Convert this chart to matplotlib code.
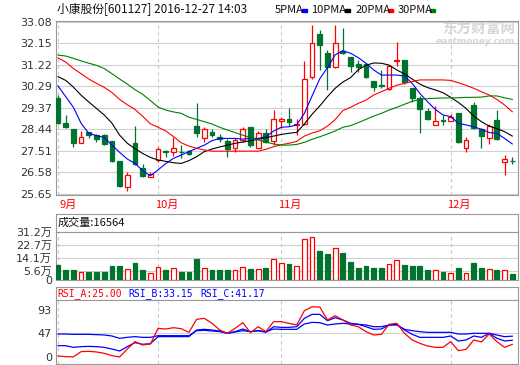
import matplotlib
matplotlib.use("Agg")
import matplotlib.pyplot as plt
from matplotlib.patches import Rectangle
from matplotlib.transforms import blended_transform_factory

# Chart of 601127 daily candles, volume and RSI (eastmoney style)

W, H = 520, 365
RED = "#ff0000"
GREEN = "#00732f"
BLUE = "#0000ff"
GRID = "#d0d0d0"
FRAME = "#999999"

title = "小康股份[601127] 2016-12-27 14:03"
month_labels = ["9月", "10月", "11月", "12月"]
month_starts = [0, 13, 29, 51]

opens = [29.78, 28.70, 28.44, 27.86, 28.31, 28.19, 28.19, 27.95, 27.07, 25.97,
         27.84, 26.76, 26.40, 27.12, 27.50, 27.48, 27.48, 27.50, 28.58, 28.05,
         28.31, 28.09, 27.94, 27.62, 27.98, 28.52, 27.65, 28.27, 27.94, 28.80,
         28.88, 28.63, 28.65, 30.68, 32.55, 31.75, 31.14, 31.83, 31.57, 31.26,
         31.25, 30.52, 30.35, 30.16, 31.40, 31.43, 30.21, 29.78, 29.24, 28.63,
         28.84, 28.80, 29.16, 27.62, 29.49, 28.44, 28.08, 28.84, 27.02, 27.07]
highs = [29.91, 29.06, 28.45, 28.37, 28.34, 28.24, 28.24, 27.95, 27.09, 26.61,
         28.58, 26.94, 26.58, 27.69, 27.55, 28.12, 27.76, 27.55, 29.56, 28.52,
         28.44, 28.22, 28.01, 28.05, 28.52, 28.52, 28.37, 28.45, 29.27, 28.99,
         29.34, 28.87, 31.40, 32.94, 32.72, 31.86, 32.94, 32.82, 31.57, 31.43,
         31.31, 30.52, 31.00, 31.19, 32.22, 31.43, 30.21, 29.88, 29.34, 29.45,
         29.06, 29.09, 29.16, 28.12, 29.63, 28.48, 28.65, 29.27, 27.33, 27.26]
lows = [28.67, 28.48, 27.69, 27.84, 28.05, 27.88, 27.76, 27.04, 25.97, 25.79,
        26.90, 26.40, 26.40, 27.04, 27.26, 27.29, 27.19, 27.33, 28.12, 27.91,
        28.09, 27.91, 27.26, 27.45, 27.91, 27.69, 27.62, 27.84, 27.76, 28.48,
        28.58, 28.19, 28.63, 30.60, 31.00, 30.14, 31.07, 31.67, 30.93, 30.93,
        30.64, 30.11, 30.23, 30.14, 31.17, 30.39, 29.63, 28.27, 28.84, 28.63,
        28.63, 28.80, 27.86, 27.45, 28.44, 27.62, 27.79, 27.98, 26.47, 26.94]
closes = [28.73, 28.55, 27.86, 28.12, 28.18, 28.01, 27.81, 27.07, 26.01, 26.47,
          26.94, 26.43, 26.51, 27.58, 27.48, 27.62, 27.46, 27.37, 28.30, 28.45,
          28.19, 28.02, 27.61, 27.98, 28.45, 27.76, 28.27, 27.91, 28.87, 28.88,
          28.77, 28.67, 30.60, 32.15, 32.08, 31.11, 32.15, 31.72, 31.19, 31.14,
          30.68, 30.28, 30.32, 31.19, 31.43, 30.50, 29.78, 29.30, 28.88, 28.80,
          28.81, 28.99, 27.91, 27.98, 28.51, 28.17, 28.58, 28.02, 27.16, 27.06]

# moving averages as drawn on the chart
ma5 = [30.31, 29.85, 29.39, 28.70, 28.27, 28.17, 28.09, 27.76, 27.45, 27.16,
       26.97, 26.66, 26.44, 26.69, 26.97, 27.19, 27.33, 27.48, 27.62, 27.76,
       27.95, 28.05, 28.05, 28.05, 28.02, 28.05, 28.05, 28.12, 28.37, 28.53,
       28.55, 28.63, 29.13, 29.88, 30.62, 31.10, 31.65, 31.83, 31.72, 31.53,
       31.29, 31.00, 30.78, 30.78, 30.78, 30.74, 30.42, 29.99, 29.63, 29.30,
       29.06, 28.99, 28.70, 28.63, 28.55, 28.44, 28.30, 28.27, 28.05, 27.81]
ma10 = [30.71, 30.55, 30.26, 29.91, 29.62, 29.34, 29.06, 28.71, 28.19, 27.84,
        27.61, 27.40, 27.23, 27.12, 27.06, 27.00, 26.97, 27.09, 27.26, 27.48,
        27.59, 27.68, 27.76, 27.84, 27.89, 27.95, 28.01, 28.08, 28.15, 28.22,
        28.27, 28.31, 28.67, 29.09, 29.45, 29.85, 30.21, 30.48, 30.67, 31.01,
        31.20, 31.30, 31.29, 31.21, 31.00, 30.83, 30.61, 30.39, 30.24, 30.14,
        30.02, 29.82, 29.60, 29.34, 29.01, 28.77, 28.58, 28.47, 28.34, 28.15]
ma20 = [31.52, 31.34, 31.06, 30.84, 30.61, 30.42, 30.25, 30.03, 29.73, 29.50,
        29.30, 29.00, 28.68, 28.53, 28.37, 28.13, 27.86, 27.72, 27.62, 27.55,
        27.50, 27.50, 27.50, 27.50, 27.50, 27.50, 27.50, 27.58, 27.69, 27.78,
        27.84, 27.92, 28.15, 28.28, 28.38, 28.58, 28.86, 29.25, 29.39, 29.56,
        29.70, 29.92, 30.06, 30.21, 30.34, 30.42, 30.50, 30.57, 30.57, 30.57,
        30.57, 30.55, 30.45, 30.34, 30.21, 30.06, 29.92, 29.73, 29.49, 29.20]
ma30 = [31.64, 31.60, 31.50, 31.39, 31.29, 31.20, 31.06, 30.84, 30.61, 30.39,
        30.15, 29.95, 29.68, 29.40, 29.27, 29.19, 29.13, 28.96, 28.87, 28.77,
        28.67, 28.53, 28.41, 28.30, 28.19, 28.08, 27.98, 27.89, 27.81, 27.76,
        27.76, 27.79, 27.88, 28.01, 28.12, 28.24, 28.37, 28.53, 28.60, 28.73,
        28.87, 29.01, 29.13, 29.27, 29.39, 29.52, 29.65, 29.73, 29.76, 29.78,
        29.79, 29.80, 29.80, 29.82, 29.82, 29.83, 29.88, 29.88, 29.80, 29.73]

# volume in 万 (10k)
volumes = [9.5, 6.2, 6.8, 5.1, 5.1, 5.5, 5.5, 8.8, 8.8, 7.3,
           11.0, 6.8, 4.6, 8.4, 6.8, 7.7, 5.5, 5.5, 13.4, 7.7,
           6.6, 6.2, 6.8, 6.8, 8.4, 7.3, 7.3, 7.7, 13.4, 11.0,
           10.1, 9.2, 26.4, 27.7, 18.7, 16.7, 21.1, 17.6, 11.6, 8.1,
           8.8, 7.7, 8.1, 10.1, 13.2, 9.5, 8.8, 8.8, 6.2, 6.2,
           5.1, 4.8, 8.1, 4.8, 10.8, 8.1, 7.3, 6.8, 6.2, 4.2]
last_volume = 16564

rsi_a = [2.0, 0.7, 0.3, 10.6, 11.2, 9.9, 7.3, 2.6, 0.1, 15.8,
         30.4, 23.8, 25.7, 56.8, 55.4, 58.0, 56.1, 48.8, 74.6, 76.6,
         66.7, 53.5, 46.9, 56.8, 68.0, 48.2, 60.0, 50.2, 70.0, 70.0,
         66.7, 63.4, 91.7, 99.5, 99.0, 73.3, 81.8, 73.3, 63.4, 60.0,
         50.2, 43.6, 44.9, 64.7, 66.7, 46.9, 33.7, 27.0, 21.8, 19.1,
         19.1, 30.4, 12.5, 15.2, 33.7, 29.7, 45.5, 30.4, 19.1, 25.00]
rsi_b = [22.4, 22.4, 19.1, 20.5, 21.0, 20.5, 19.1, 15.8, 11.9, 20.5,
         28.4, 25.1, 26.4, 40.3, 40.3, 40.3, 40.3, 40.3, 53.5, 54.8,
         53.5, 51.5, 46.9, 50.2, 55.4, 50.2, 52.1, 48.8, 60.0, 58.7,
         58.7, 60.0, 76.6, 84.5, 84.5, 71.9, 77.9, 73.3, 66.7, 64.7,
         60.0, 54.8, 55.4, 63.4, 64.7, 53.5, 44.9, 38.9, 38.9, 38.9,
         38.9, 41.6, 31.7, 33.7, 41.6, 38.9, 46.9, 37.0, 31.7, 33.15]
rsi_c = [45.5, 45.5, 44.9, 44.9, 44.9, 44.2, 43.6, 41.6, 37.0, 38.9,
         40.3, 38.9, 38.9, 42.2, 42.2, 42.2, 42.2, 42.2, 52.1, 52.8,
         51.5, 50.2, 46.9, 49.5, 52.1, 50.2, 52.1, 50.2, 55.4, 54.8,
         54.8, 54.8, 65.3, 68.6, 68.0, 63.4, 65.3, 66.7, 65.3, 64.7,
         63.4, 60.0, 60.0, 63.4, 63.4, 54.8, 52.1, 50.2, 48.8, 48.8,
         48.8, 48.8, 45.5, 45.5, 46.9, 46.9, 46.9, 43.6, 40.3, 41.17]

price_ticks = [25.65, 26.58, 27.51, 28.44, 29.37, 30.29, 31.22, 32.15, 33.08]
vol_ticks = [0, 5.6, 14.1, 22.7, 31.2]
rsi_ticks = [0, 47, 93]

ma_labels = ["5PMA", "10PMA", "20PMA", "30PMA"]
ma_colors = [BLUE, "black", RED, "#008000"]

plt.rcParams["font.family"] = ["DejaVu Sans", "Noto Sans CJK SC"]
CJK = ["Noto Sans CJK SC", "DejaVu Sans"]

n = len(closes)
x = list(range(n))
xlim = (-0.26, 59.68)
bw = 0.62

fig = plt.figure(figsize=(W / 100, H / 100), dpi=100)


def add_axes_px(x0, y0, x1, y1):
    ax = fig.add_axes([x0 / W, 1 - y1 / H, (x1 - x0) / W, (y1 - y0) / H])
    ax.set_xlim(*xlim)
    ax.set_xticks([])
    for s in ax.spines.values():
        s.set_color(FRAME)
        s.set_linewidth(0.8)
    ax.tick_params(axis="y", length=0, pad=3, labelsize=8, labelcolor="#333333")
    return ax


def month_lines(ax):
    for m in month_starts:
        ax.axvline(m, color="#c8c8c8", lw=0.8, ls=(0, (3, 3)), zorder=0)


# price panel
ax = add_axes_px(56, 21, 517.5, 195)
ax.set_ylim(25.61, 33.11)
ax.set_yticks(price_ticks)
ax.set_yticklabels([f"{t:.2f}" for t in price_ticks])
ax.grid(axis="y", color=GRID, lw=0.8, zorder=0)
month_lines(ax)

for i in x:
    up = closes[i] > opens[i]
    col = RED if up else GREEN
    top = max(opens[i], closes[i])
    bot = min(opens[i], closes[i])
    ax.vlines(i, top, highs[i], color=col, lw=0.9, zorder=3)
    ax.vlines(i, lows[i], bot, color=col, lw=0.9, zorder=3)
    ax.add_patch(Rectangle((i - bw / 2, bot), bw, max(top - bot, 0.015),
                           facecolor="white" if up else col, edgecolor=col,
                           lw=0.9, zorder=3))

for vals, col in zip([ma5, ma10, ma20, ma30], ma_colors):
    ax.plot(x, vals, color=col, lw=0.8, zorder=4)

# watermark
ax.text(0.995, 0.955, "东方财富网", transform=ax.transAxes, ha="right", va="center",
        fontsize=10.5, fontweight="bold", color="#d6d6d6", family=CJK, zorder=1)
ax.text(0.995, 0.88, "eastmoney.com", transform=ax.transAxes, ha="right", va="center",
        fontsize=6.5, fontweight="bold", style="italic", color="#d6d6d6", zorder=1)

# month labels under the price panel
tr = blended_transform_factory(ax.transData, ax.transAxes)
for m, lab in zip(month_starts, month_labels):
    ax.text(m - 0.45 if m > 0 else 0.25, -0.058, lab, transform=tr, ha="left",
            va="center", fontsize=8, color=RED, family=CJK)

# title and MA legend
fig.text(57 / W, 1 - 10 / H, title, ha="left", va="center", fontsize=8.5,
         family=CJK, color="#111111")
for lab, col, tx, dx in zip(ma_labels, ma_colors, [275, 311, 356, 398], [302, 345, 388, 430]):
    fig.text(tx / W, 1 - 10 / H, lab, ha="left", va="center", fontsize=8,
             family=CJK, color="#111111")
    fig.add_artist(Rectangle((dx / W, 1 - 11.5 / H), 5 / W, 3 / H,
                             transform=fig.transFigure, color=col))

# volume panel
axh = add_axes_px(56, 214, 517.5, 232)
axh.set_yticks([])
axh.text(0.003, 0.5, f"成交量:{last_volume}", transform=axh.transAxes, ha="left",
         va="center", fontsize=8, family=CJK, color="#111111")

axv = add_axes_px(56, 232, 517.5, 280)
axv.set_ylim(0, 31.2)
axv.set_yticks(vol_ticks)
axv.set_yticklabels(["0"] + [f"{t:.1f}万" for t in vol_ticks[1:]])
axv.grid(axis="y", color=GRID, lw=0.8, zorder=0)
month_lines(axv)
for i in x:
    up = closes[i] > opens[i]
    col = RED if up else GREEN
    axv.bar(i, volumes[i], width=bw, facecolor="white" if up else col,
            edgecolor=col, lw=0.9, zorder=3)

# RSI panel
axr_h = add_axes_px(56, 287, 517.5, 300)
axr_h.set_yticks([])
for lab, col, tx in zip([f"RSI_A:{rsi_a[-1]:.2f}", f"RSI_B:{rsi_b[-1]:.2f}",
                         f"RSI_C:{rsi_c[-1]:.2f}"], [RED, BLUE, BLUE], [57, 128, 200]):
    fig.text(tx / W, 1 - 294 / H, lab, ha="left", va="center", fontsize=7,
             family="DejaVu Sans Mono", color=col)

axr = add_axes_px(56, 300, 517.5, 364)
axr.set_ylim(-13.9, 112.9)
axr.set_yticks(rsi_ticks)
axr.set_yticklabels([str(t) for t in rsi_ticks])
axr.grid(axis="y", color=GRID, lw=0.8, zorder=0)
axr.yaxis.get_gridlines()[0].set_visible(False)
axr.yaxis.get_gridlines()[2].set_visible(False)
month_lines(axr)
axr.plot(x, rsi_c, color=BLUE, lw=0.9, zorder=3)
axr.plot(x, rsi_b, color=BLUE, lw=0.9, zorder=3)
axr.plot(x, rsi_a, color=RED, lw=0.9, zorder=4)

fig.savefig("out.png", dpi=100)
